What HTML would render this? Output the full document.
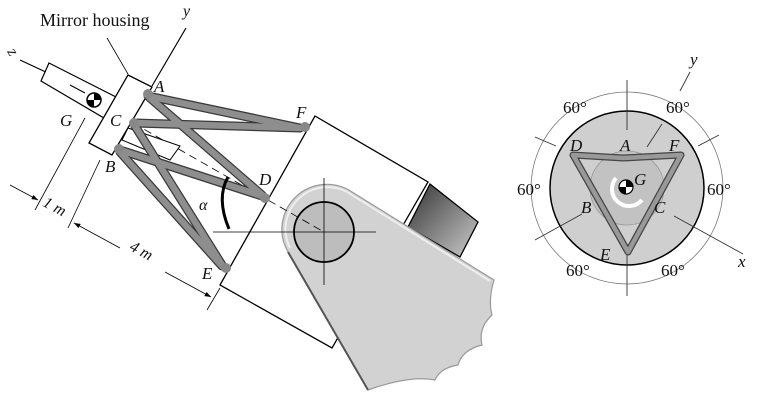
<!DOCTYPE html>
<html><head><style>
html,body{margin:0;padding:0;background:#fff;}
svg{display:block;}
text{font-family:"Liberation Serif",serif;fill:#111;}
.it{font-style:italic;}
</style></head><body>
<svg width="774" height="416" viewBox="0 0 774 416" xmlns="http://www.w3.org/2000/svg">
<defs>
<linearGradient id="dk" x1="0" y1="0" x2="1" y2="1">
<stop offset="0" stop-color="#333"/><stop offset="1" stop-color="#ccc"/></linearGradient>
<marker id="ar" markerWidth="8" markerHeight="6" refX="8" refY="3" orient="auto"><path d="M0,0 L8,3 L0,6z" fill="#000"/></marker>
</defs>
<polygon points="315,116 428,182 332,348 220,285" fill="#fff" stroke="#000" stroke-width="1.3"/>
<polygon points="430,184 478,222 460,257 408,227" fill="url(#dk)" stroke="#000" stroke-width="1.3"/>
<path d="M288,252 A45,45 0 0 1 352,192 L494,280 Q488,300 492,315 Q478,328 482,345 Q462,350 458,365 Q440,368 435,380 Q410,375 368,390 Z" fill="#d2d2d2" stroke="#999" stroke-width="1.2"/>
<path d="M290,248 A42,42 0 0 1 352,195 L490,281" fill="none" stroke="#eee" stroke-width="2"/>
<path d="M288,252 L368,390" stroke="#555" stroke-width="2"/>
<circle cx="324" cy="232" r="30" fill="#bdbdbd" stroke="#000" stroke-width="1.8"/>
<line x1="213" y1="232" x2="376" y2="232" stroke="#000" stroke-width="0.8"/>
<line x1="324" y1="178" x2="324" y2="285" stroke="#000" stroke-width="0.8"/>
<line x1="133" y1="123" x2="324" y2="232" stroke="#000" stroke-width="0.8" stroke-dasharray="8,5"/>
<line x1="152" y1="86" x2="186" y2="28" stroke="#000" stroke-width="1.2"/>
<line x1="20" y1="60" x2="50" y2="74" stroke="#000" stroke-width="1.2"/>
<line x1="107" y1="38" x2="128" y2="74" stroke="#000" stroke-width="0.8"/>
<polygon points="49,63 116,97 104,118 41,81" fill="#fff" stroke="#000" stroke-width="1.2"/>
<line x1="70" y1="85" x2="85" y2="93" stroke="#000"/>
<polygon points="128,75 152,87 112,155 89,143" fill="#fff" stroke="#000" stroke-width="1.3"/>
<polygon points="128,128 180,146 170,160 122,140" fill="#fff" stroke="#000" stroke-width="1"/>
<circle cx="94" cy="100" r="7" fill="#fff" stroke="#000" stroke-width="1.5"/>
<path d="M94,100 L94,93 A7,7 0 0 1 101,100Z M94,100 L94,107 A7,7 0 0 1 87,100Z" fill="#000"/>
<g stroke="#3a3a3a" stroke-width="9" stroke-linecap="round">
<line x1="148" y1="96" x2="300" y2="128"/>
<line x1="135" y1="123" x2="300" y2="128"/>
<line x1="150" y1="98" x2="262" y2="195"/>
<line x1="120" y1="150" x2="262" y2="196"/>
<line x1="135" y1="126" x2="222" y2="265"/>
<line x1="120" y1="152" x2="222" y2="266"/>
</g>
<g stroke="#8e8e8e" stroke-width="6.5" stroke-linecap="round">
<line x1="148" y1="96" x2="300" y2="128"/>
<line x1="135" y1="123" x2="300" y2="128"/>
<line x1="150" y1="98" x2="262" y2="195"/>
<line x1="120" y1="150" x2="262" y2="196"/>
<line x1="135" y1="126" x2="222" y2="265"/>
<line x1="120" y1="152" x2="222" y2="266"/>
</g>
<g fill="#888">
<circle cx="148" cy="94" r="5"/><circle cx="134" cy="123" r="5"/><circle cx="119" cy="149" r="5"/>
<circle cx="305" cy="127" r="5"/><circle cx="265" cy="198" r="5"/><circle cx="226" cy="268" r="5"/>
</g>
<path d="M228,177 Q216,198 229,229" fill="none" stroke="#000" stroke-width="3"/>
<line x1="85" y1="118" x2="35" y2="210" stroke="#000" stroke-width="0.8"/>
<line x1="100" y1="160" x2="68" y2="228" stroke="#000" stroke-width="0.8"/>
<line x1="220" y1="288" x2="207" y2="310" stroke="#000" stroke-width="0.8"/>
<line x1="10" y1="185" x2="38" y2="200" stroke="#000" stroke-width="0.8" marker-end="url(#ar)"/>
<line x1="120" y1="248" x2="74" y2="223" stroke="#000" stroke-width="0.8" marker-end="url(#ar)"/>
<line x1="165" y1="272" x2="211" y2="297" stroke="#000" stroke-width="0.8" marker-end="url(#ar)"/>
<text x="40" y="211" font-size="16" class="it" transform="rotate(28 52 212)">1 m</text>
<text x="128" y="258" font-size="16" class="it" transform="rotate(28 145 255)">4 m</text>
<text x="40" y="26" font-size="18">Mirror housing</text>
<text x="183" y="16" font-size="16" class="it">y</text>
<text x="8" y="58" font-size="16" class="it" transform="rotate(60 13 54)">z</text>
<text x="60" y="126" font-size="17" class="it">G</text>
<text x="110" y="126" font-size="17" class="it">C</text>
<text x="154" y="92" font-size="17" class="it">A</text>
<text x="105" y="172" font-size="17" class="it">B</text>
<text x="296" y="118" font-size="17" class="it">F</text>
<text x="259" y="185" font-size="17" class="it">D</text>
<text x="202" y="279" font-size="17" class="it">E</text>
<text x="199" y="210" font-size="16" class="it">α</text>
<circle cx="627" cy="188" r="96" fill="none" stroke="#777" stroke-width="0.8"/>
<circle cx="627" cy="188" r="77" fill="#cfcfcf" stroke="#000" stroke-width="1.5"/>
<circle cx="627" cy="188" r="37" fill="#c2c2c2" stroke="#999" stroke-width="0.8"/>
<g stroke="#333" stroke-width="0.9">
<line x1="627" y1="80" x2="627" y2="130"/><line x1="627" y1="255" x2="627" y2="296"/>
<line x1="535" y1="137" x2="556" y2="146"/><line x1="698" y1="146" x2="719" y2="135"/>
<line x1="535" y1="240" x2="582" y2="214"/>
<line x1="674" y1="216" x2="743" y2="254"/>
<line x1="647" y1="147" x2="662" y2="124"/><line x1="680" y1="91" x2="690" y2="72"/>
</g>
<path d="M573,155 L623,158 L681,155 L628,252 Z" stroke-linejoin="round" stroke="#444" stroke-width="7" fill="none"/>
<path d="M573,155 L623,158 L681,155 L628,252 Z" stroke-linejoin="round" stroke="#999" stroke-width="4.5" fill="none"/>
<path d="M616,178 A14,14 0 0 0 642,200" fill="none" stroke="#fff" stroke-width="4"/>
<circle cx="626" cy="187" r="7" fill="#fff" stroke="#000" stroke-width="1.2"/>
<path d="M626,187 L626,180 A7,7 0 0 1 633,187Z M626,187 L626,194 A7,7 0 0 1 619,187Z" fill="#000"/>
<g font-size="17">
<text x="563" y="113">60°</text><text x="666" y="113">60°</text>
<text x="517" y="195">60°</text><text x="707" y="195">60°</text>
<text x="566" y="276">60°</text><text x="661" y="276">60°</text>
</g>
<g font-size="17" class="it">
<text x="570" y="151">D</text><text x="620" y="151">A</text><text x="669" y="151">F</text>
<text x="634" y="185">G</text><text x="581" y="213">B</text><text x="654" y="213">C</text>
<text x="600" y="260">E</text><text x="738" y="267">x</text><text x="690" y="65">y</text>
</g>
</svg>
</body></html>
